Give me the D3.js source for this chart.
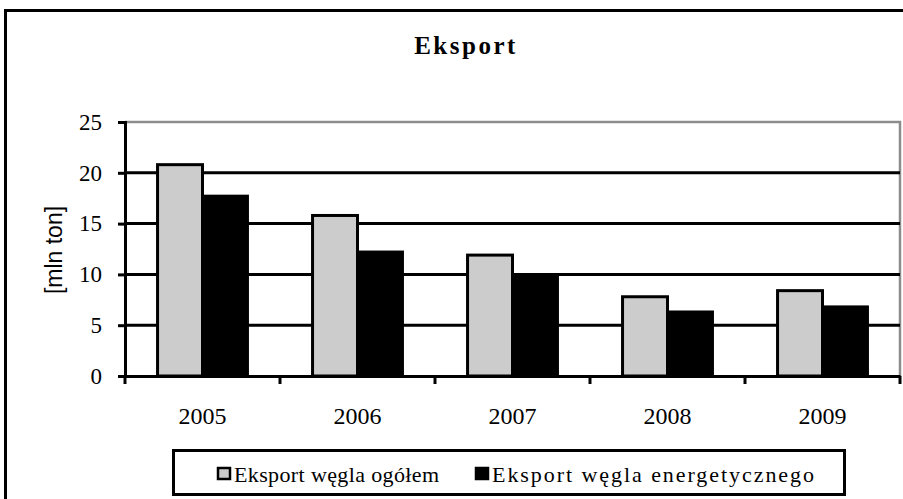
<!DOCTYPE html>
<html>
<head>
<meta charset="utf-8">
<script src="https://cdn.jsdelivr.net/npm/d3@7"></script>
<style>
    body { margin: 0; background: #fff; }
    svg { display: block; }
</style>
</head>
<body>
<svg></svg>
<script>
let years = ["2005", "2006", "2007", "2008", "2009"];
let seriesNames = ["Eksport węgla ogółem", "Eksport węgla energetycznego"];
let ogolem = [20.8, 15.8, 11.9, 7.8, 8.4];
let energetyczny = [17.7, 12.2, 9.9, 6.3, 6.8];
let yTicks = [0, 5, 10, 15, 20, 25];

let width = 903;
let height = 499;

let plot = { left: 125, right: 900, top: 122, bottom: 376 };
let fills = ["#cccccc", "#000000"];

let svg = d3.select("svg")
            .attr("width", width)
            .attr("height", height);

let xScale = d3.scaleBand()
               .domain(years)
               .range([plot.left, plot.right])
               .padding(0);

let subScale = d3.scaleBand()
                 .domain(seriesNames)
                 .range([xScale.bandwidth() * 0.21, xScale.bandwidth() * 0.79])
                 .padding(0);

let yScale = d3.scaleLinear()
               .domain([0, 25])
               .range([plot.bottom, plot.top]);

// outer frame of the chart
svg.append("rect")
   .attr("x", 5.5)
   .attr("y", 10.5)
   .attr("width", 940)
   .attr("height", 520)
   .attr("fill", "none")
   .attr("stroke", "#000")
   .attr("stroke-width", 3);

svg.append("text")
   .attr("x", 466)
   .attr("y", 54)
   .attr("text-anchor", "middle")
   .attr("font-family", "Liberation Serif")
   .attr("font-weight", "bold")
   .attr("font-size", 25)
   .attr("letter-spacing", 2.5)
   .text("Eksport");

// plot area border (gray top & right)
svg.append("path")
   .attr("d", `M${plot.left},${plot.top}H${plot.right}V${plot.bottom}`)
   .attr("fill", "none")
   .attr("stroke", "#8c8c8c")
   .attr("stroke-width", 2.5);

// gridlines
svg.append("g")
   .selectAll("line")
   .data(yTicks.filter(d => d > 0 && d < 25))
   .enter()
   .append("line")
   .attr("x1", plot.left)
   .attr("x2", plot.right)
   .attr("y1", d => yScale(d))
   .attr("y2", d => yScale(d))
   .attr("stroke", "#000")
   .attr("stroke-width", 3);

let rows = years.map((y, i) => ({ year: y, values: [ogolem[i], energetyczny[i]] }));

let groups = svg.append("g")
                .selectAll("g")
                .data(rows)
                .enter()
                .append("g")
                .attr("transform", d => `translate(${xScale(d.year)},0)`);

groups.selectAll("rect")
      .data(d => d.values.map((v, k) => ({ name: seriesNames[k], value: v, k: k })))
      .enter()
      .append("rect")
      .attr("x", d => subScale(d.name))
      .attr("y", d => yScale(d.value))
      .attr("width", subScale.bandwidth())
      .attr("height", d => plot.bottom - yScale(d.value))
      .attr("fill", d => fills[d.k])
      .attr("stroke", "#000")
      .attr("stroke-width", 3);

// axes
let yAxis = d3.axisLeft(yScale)
              .tickValues(yTicks)
              .tickSize(7)
              .tickPadding(16);

let yG = svg.append("g")
            .attr("transform", `translate(${plot.left},0)`)
            .call(yAxis);

let xAxis = d3.axisBottom(xScale)
              .tickSize(0)
              .tickPadding(31);

let xG = svg.append("g")
            .attr("transform", `translate(0,${plot.bottom})`)
            .call(xAxis);

// category boundary ticks
let bounds = years.map(y => xScale(y)).concat([plot.right]);
xG.selectAll(".bound")
  .data(bounds)
  .enter()
  .append("line")
  .attr("class", "bound")
  .attr("x1", d => d)
  .attr("x2", d => d)
  .attr("y1", 0)
  .attr("y2", 8)
  .attr("stroke", "#000")
  .attr("stroke-width", 3);

[yG, xG].forEach(g => {
    g.select(".domain").attr("stroke", "#000").attr("stroke-width", 3);
    g.selectAll(".tick line").attr("stroke", "#000").attr("stroke-width", 3);
    g.selectAll("text")
     .attr("font-family", "Liberation Serif")
     .attr("font-size", 23)
     .attr("fill", "#000");
});
xG.selectAll(".tick text").attr("font-size", 24);

svg.append("text")
   .attr("transform", "translate(62,250) rotate(-90)")
   .attr("text-anchor", "middle")
   .attr("font-family", "Liberation Sans")
   .attr("font-size", 23)
   .text("[mln ton]");

// legend
let legend = svg.append("g");

legend.append("rect")
      .attr("x", 173.5)
      .attr("y", 450.5)
      .attr("width", 671)
      .attr("height", 44)
      .attr("fill", "#fff")
      .attr("stroke", "#000")
      .attr("stroke-width", 3);

let legendX = [218, 476];
let legendW = [205, 322];

let items = legend.selectAll(".item")
                  .data(seriesNames)
                  .enter()
                  .append("g")
                  .attr("class", "item")
                  .attr("transform", (d, i) => `translate(${legendX[i]},474)`);

items.append("rect")
     .attr("x", 0)
     .attr("y", -6)
     .attr("width", 12)
     .attr("height", 11)
     .attr("fill", (d, i) => fills[i])
     .attr("stroke", "#000")
     .attr("stroke-width", 2.5);

items.append("text")
     .attr("x", 16)
     .attr("y", 8)
     .attr("font-family", "Liberation Serif")
     .attr("font-size", 22)
     .attr("textLength", (d, i) => legendW[i])
     .attr("lengthAdjust", "spacing")
     .text(d => d);
</script>
</body>
</html>
